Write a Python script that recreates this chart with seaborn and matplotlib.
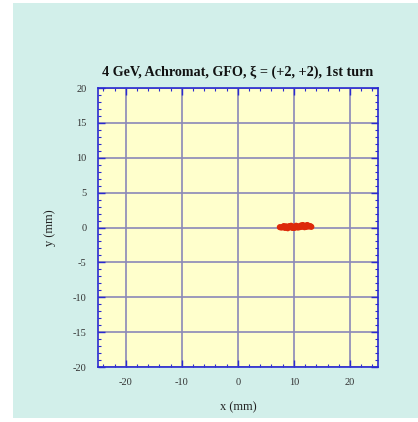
import matplotlib
matplotlib.use("Agg")
import matplotlib.pyplot as plt
import seaborn as sns
import pandas as pd
from matplotlib.patches import Rectangle
from matplotlib.ticker import MultipleLocator

# Data: particle positions after 1st turn (mm)
x_mm = [7.5, 7.8, 8.1, 8.4, 8.7, 9.0, 9.3, 9.6, 9.9, 10.2, 10.5, 10.8, 11.1, 11.4,
        11.7, 12.0, 12.3, 12.6, 12.9, 13.1, 8.2, 8.9, 9.5, 10.1, 10.7, 11.3, 11.9, 12.4,
        8.6, 9.2, 9.8, 10.4, 11.0, 11.6, 12.2]
y_mm = [0.05, 0.0, 0.1, -0.05, 0.1, 0.05, 0.15, 0.0, 0.1, 0.05, 0.15, 0.1, 0.2, 0.1,
        0.25, 0.2, 0.3, 0.15, 0.2, 0.1, 0.2, -0.1, 0.25, -0.05, 0.0, 0.3, 0.05, 0.35,
        0.15, 0.2, -0.05, 0.25, 0.05, 0.35, 0.1]

title = "4 GeV, Achromat, GFO, \u03be = (+2, +2), 1st turn"
x_ticks = [-20, -10, 0, 10, 20]
y_ticks = [-20, -15, -10, -5, 0, 5, 10, 15, 20]

sns.set_theme(style="white")
plt.rcParams['font.family'] = ['Liberation Serif', 'DejaVu Serif']
plt.rcParams['axes.unicode_minus'] = False

fig = plt.figure(figsize=(4.18, 4.22), dpi=100, facecolor="white")
bg = Rectangle((13/418, 4/422), 1 - 13/418, 1 - 7/422,
               transform=fig.transFigure, facecolor="#d2efea",
               edgecolor="none", zorder=-10)
fig.patches.append(bg)
ax = fig.add_axes([0.2337, 0.1303, 0.6706, 0.6611])
ax.set_zorder(5)
ax.set_facecolor("#ffffcc")

df = pd.DataFrame({"x": x_mm, "y": y_mm})
sns.scatterplot(data=df, x="x", y="y", ax=ax, color="#dd2a0a", s=20,
                edgecolor="none", zorder=3, legend=False)

ax.set_xlim(-25, 25)
ax.set_ylim(-20, 20)
ax.set_xticks(x_ticks)
ax.set_yticks(y_ticks)
ax.xaxis.set_minor_locator(MultipleLocator(2))
ax.yaxis.set_minor_locator(MultipleLocator(1))
ax.grid(True, which="major", color="#8a88b8", linewidth=1.2, zorder=1)
ax.set_axisbelow(True)
for s in ax.spines.values():
    s.set_color("#2a2ad0")
    s.set_linewidth(1.2)
ax.tick_params(which="both", direction="in", top=True, right=True,
               bottom=True, left=True, color="#2a2ad0", labelsize=7.5,
               labelcolor="#333333")
ax.tick_params(which="major", length=5, width=1.0, pad=8)
ax.tick_params(which="minor", length=2.5, width=0.8)

ax.set_title(title, fontsize=10.2, fontweight="bold", pad=9, color="#111111")
ax.set_xlabel("x (mm)", fontsize=9, color="#222222", labelpad=10)
ax.set_ylabel("y (mm)", fontsize=9, color="#222222", labelpad=12)

fig.savefig("out.png", dpi=100, facecolor=fig.get_facecolor())
